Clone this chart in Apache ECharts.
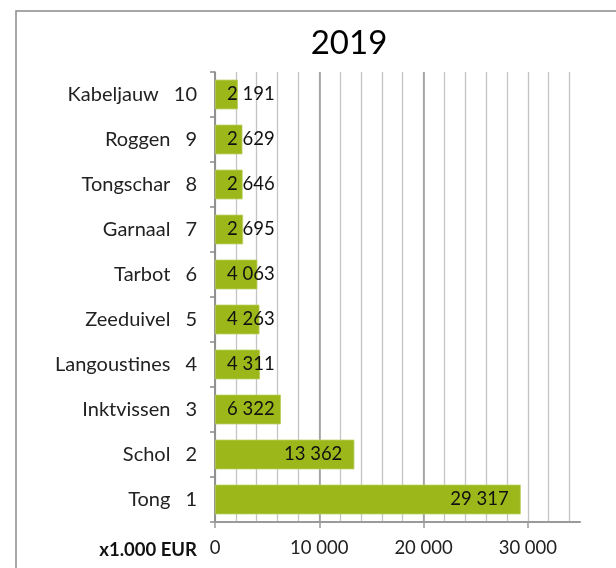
<!DOCTYPE html>
<html><head><meta charset="utf-8">
<script src="https://cdn.jsdelivr.net/npm/echarts@6/dist/echarts.min.js"></script>
<style>html,body{margin:0;padding:0;background:#fff}#c{width:616px;height:568px}</style>
</head><body><div id="c"></div>
<script>
var categories = ['Tong','Schol','Inktvissen','Langoustines','Zeeduivel','Tarbot','Garnaal','Tongschar','Roggen','Kabeljauw'];
var ranks = ['1','2','3','4','5','6','7','8','9','10'];
var values = [29317,13362,6322,4311,4263,4063,2695,2646,2629,2191];
var majorTicks = [0,10000,20000,30000];
var titleText = '2019';
var unitText = 'x1.000 EUR';

var FONT = 'Lato, "Open Sans", sans-serif';
function fmtNum(v){ return String(v).replace(/\B(?=(\d{3})+(?!\d))/g, ' '); }

var yLabels = categories.map(function(c,i){ return c + '|' + ranks[i]; });
var barData = values.map(function(v){
  return { value: v, label: { position: v < 8000 ? 'insideLeft' : 'insideRight' } };
});

var chart = echarts.init(document.getElementById('c'));
chart.setOption({
  animation: false,
  title: { text: titleText, left: 344, textAlign: 'center', top: 22,
    textStyle: { fontFamily: FONT, fontSize: 33, fontWeight: 'normal', color: '#000' } },
  graphic: [{ type: 'rect', shape: { x: 16, y: 11, width: 800, height: 800 },
    style: { fill: 'none', stroke: '#8a8a8a', lineWidth: 1.5 }, silent: true }],
  grid: { left: 215, right: 36, top: 72, bottom: 46, containLabel: false },
  xAxis: [{
    type: 'value', min: 0, max: 35000, interval: 2000,
    axisLine: { show: false }, axisTick: { show: false }, axisLabel: { show: false },
    splitLine: { show: true, showMaxLine: false, lineStyle: { color: '#c4c4c4', width: 1.3 } }
  }, {
    type: 'value', min: 0, max: 35000, interval: 10000, position: 'bottom',
    axisLine: { show: true, lineStyle: { color: '#9a9a9a', width: 2 } },
    axisTick: { show: true, length: 6, customValues: majorTicks, lineStyle: { color: '#9a9a9a', width: 1.5 } },
    axisLabel: { customValues: majorTicks, margin: 17, fontFamily: FONT, fontSize: 18.5, color: '#222',
      formatter: function(v){ return fmtNum(v); } },
    splitLine: { show: true, showMaxLine: false, lineStyle: { color: '#9a9a9a', width: 1.5 } },
    name: unitText, nameLocation: 'start', nameGap: 18,
    nameTextStyle: { fontFamily: FONT, fontSize: 18.5, fontWeight: 'bold', color: '#111',
      align: 'right', verticalAlign: 'top', padding: [19, 0, 0, 0] }
  }],
  yAxis: {
    type: 'category', data: yLabels,
    axisLine: { show: true, lineStyle: { color: '#8a8a8a', width: 1.5 } },
    axisTick: { show: true, length: 5, lineStyle: { color: '#8a8a8a', width: 1.5 } },
    splitLine: { show: false },
    axisLabel: { margin: 18, fontFamily: FONT, fontSize: 20, color: '#222',
      formatter: function(v){ var p = v.split('|'); return '{n|' + p[0] + '}{r|' + p[1] + '}'; },
      rich: { n: { fontFamily: FONT, fontSize: 20, color: '#222' },
              r: { fontFamily: FONT, fontSize: 20, color: '#222', padding: [0,0,0,15] } } }
  },
  series: [{
    type: 'bar', xAxisIndex: 1, data: barData, barCategoryGap: '34%',
    itemStyle: { color: '#9bb71a', borderColor: '#b9cf5a', borderWidth: 0.8 },
    label: { show: true, distance: 12, fontFamily: FONT, fontSize: 18.5, color: '#111',
      formatter: function(p){ return fmtNum(p.value); } }
  }]
});
</script></body></html>
